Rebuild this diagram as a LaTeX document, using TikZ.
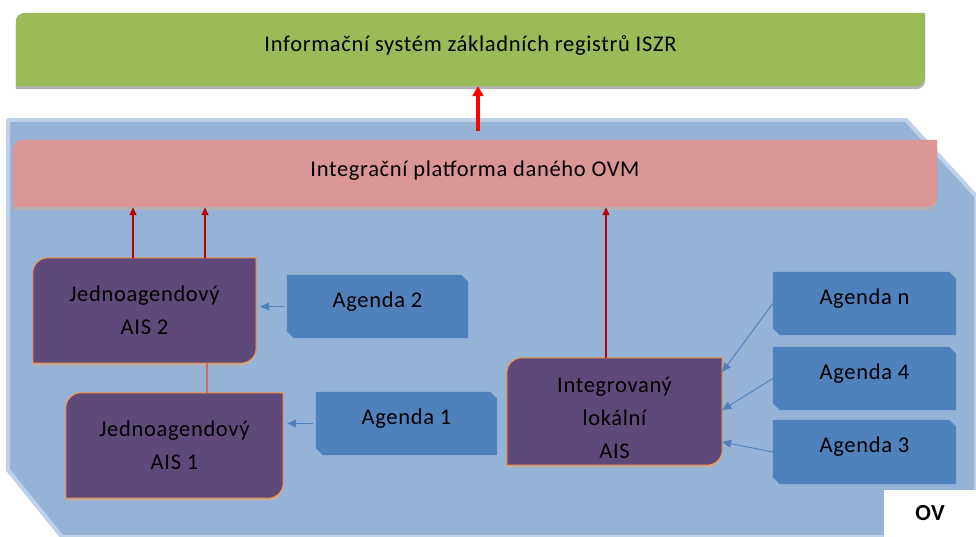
\documentclass[tikz,border=0pt]{standalone}
\usepackage{fontspec}
\setmainfont[LetterSpace=3]{Carlito}
\usetikzlibrary{arrows.meta,backgrounds}

\definecolor{zelena}{HTML}{9BBB59}
\definecolor{ruzova}{HTML}{D99694}
\definecolor{fialova}{HTML}{5F497A}
\definecolor{oranzova}{HTML}{F79646}
\definecolor{modra}{HTML}{4F81BD}
\definecolor{pozadi}{HTML}{95B3D7}
\definecolor{okraj}{HTML}{BFD1E8}
\definecolor{cervena}{HTML}{C00000}

% obdelnik se zaoblenym levym hornim a pravym dolnim rohem
\newcommand\roundpath[3]{([yshift=#3]#1.south west) -- ([yshift=#3-#2]#1.north west)
  .. controls ([yshift=#3-0.45*#2]#1.north west) and ([xshift=0.45*#2,yshift=#3]#1.north west)
  .. ([xshift=#2,yshift=#3]#1.north west)
  -- ([yshift=#3]#1.north east) -- ([yshift=#3+#2]#1.south east)
  .. controls ([yshift=#3+0.45*#2]#1.south east) and ([xshift=-0.45*#2,yshift=#3]#1.south east)
  .. ([xshift=-#2,yshift=#3]#1.south east) -- cycle}
% obdelnik se seriznutym pravym hornim a levym dolnim rohem
\newcommand\snippath[2]{([yshift=#2]#1.south west) -- (#1.north west)
  -- ([xshift=-#2]#1.north east) -- ([yshift=-#2]#1.north east)
  -- (#1.south east) -- ([xshift=#2]#1.south west) -- cycle}

\tikzset{
  box/.style={inner sep=0pt,align=center,font=\fontsize{22.5}{33}\selectfont},
  agbox/.style={box,minimum width=183,minimum height=63,text depth=14pt},
  aisbox/.style={box,minimum width=220,minimum height=105},
  stin/.style={fill=black!30},
  redarrow/.style={draw=cervena,line width=1.2pt,-{Triangle[width=7pt,length=8pt]}},
  bluearrow/.style={draw=modra,line width=0.9pt,-{Triangle[width=8pt,length=9pt]}}
}

\begin{document}
\begin{tikzpicture}[x=1pt,y=-1pt]
  \useasboundingbox (0,0) rectangle (976,537);

  \node[box,minimum width=909,minimum height=73,text depth=12pt] (iszr) at (470.5,49.5) {Informační systém základních registrů ISZR};
  \node[box,minimum width=924,minimum height=67,text depth=10pt] (ipovm) at (475,173.5) {Integrační platforma daného OVM};

  \node[aisbox,minimum width=223] (ais2) at (144.5,310.5) {Jednoagendový\\AIS 2};
  \node[aisbox,minimum width=217] (ais1) at (174.5,445.5) {Jednoagendový\\AIS 1};
  \node[aisbox,minimum width=215,minimum height=107] (ais) at (614.5,411.5) {\rule{0pt}{29pt}Integrovaný\\lokální\\AIS};

  \node[agbox,minimum width=181] (ag2) at (377.5,306.5) {Agenda 2};
  \node[agbox,minimum width=181] (ag1) at (406.5,423.5) {Agenda 1};
  \node[agbox] (agn) at (864.5,303.5) {Agenda n};
  \node[agbox] (ag4) at (864.5,378.5) {Agenda 4};
  \node[agbox,minimum height=64] (ag3) at (864.5,452) {Agenda 3};

  \node[font=\fontsize{23}{24}\selectfont\bfseries,minimum width=92,minimum height=47,inner sep=0pt] (ov) at (930,513.5) {OV};

  \begin{scope}[on background layer]
    % plocha OV
    \filldraw[fill=pozadi,draw=okraj,line width=4pt,line join=bevel]
      (8,120) -- (906,120) -- (976,196) -- (976,537) -- (62,537) -- (8,470) -- cycle;
    \fill[white] (ov.north west) rectangle (ov.south east);

    \fill[stin] \roundpath{iszr}{9pt}{-3pt};
    \fill[zelena] \roundpath{iszr}{9pt}{0pt};
    \fill[stin] \roundpath{ipovm}{10pt}{-3pt};
    \fill[ruzova] \roundpath{ipovm}{10pt}{0pt};

    \foreach \n in {ais2,ais1,ais}{
      \fill[stin] \roundpath{\n}{15pt}{-3pt};
      \filldraw[fill=fialova,draw=oranzova,line width=1pt] \roundpath{\n}{15pt}{0pt};
    }
    \foreach \n in {ag2,ag1,agn,ag4,ag3}
      \fill[modra] \snippath{\n}{7pt};
  \end{scope}

  % tok dat
  \draw[red,line width=3.5pt,-{Triangle[width=11pt,length=10pt]}] ([xshift=7.5pt]iszr.south |- 0,131) -- ([xshift=7.5pt]iszr.south);
  \draw[redarrow] ([xshift=-11.5pt]ais2.north) -- ([xshift=-11.5pt]ais2.north |- ipovm.south);
  \draw[redarrow] ([xshift=60.5pt]ais2.north) -- ([xshift=60.5pt]ais2.north |- ipovm.south);
  \draw[redarrow] ([xshift=-8.5pt]ais.north) -- ([xshift=-8.5pt]ais.north |- ipovm.south);
  \draw[draw=ruzova!70!cervena,line width=1.5pt] ([xshift=32.5pt]ais1.north) -- ([xshift=32.5pt]ais1.north |- ais2.south);

  \draw[bluearrow,shorten >=4pt,shorten <=3pt] (ag2.west) -- (ais2.east |- ag2.west);
  \draw[bluearrow,shorten >=4pt,shorten <=3pt] (ag1.west) -- (ais1.east |- ag1.west);
  \draw[bluearrow] (agn.west) -- ([yshift=39.5pt]ais.east);
  \draw[bluearrow] (ag4.west) -- ([yshift=1.5pt]ais.east);
  \draw[bluearrow] (ag3.west) -- ([yshift=-30.5pt]ais.east);
\end{tikzpicture}
\end{document}
